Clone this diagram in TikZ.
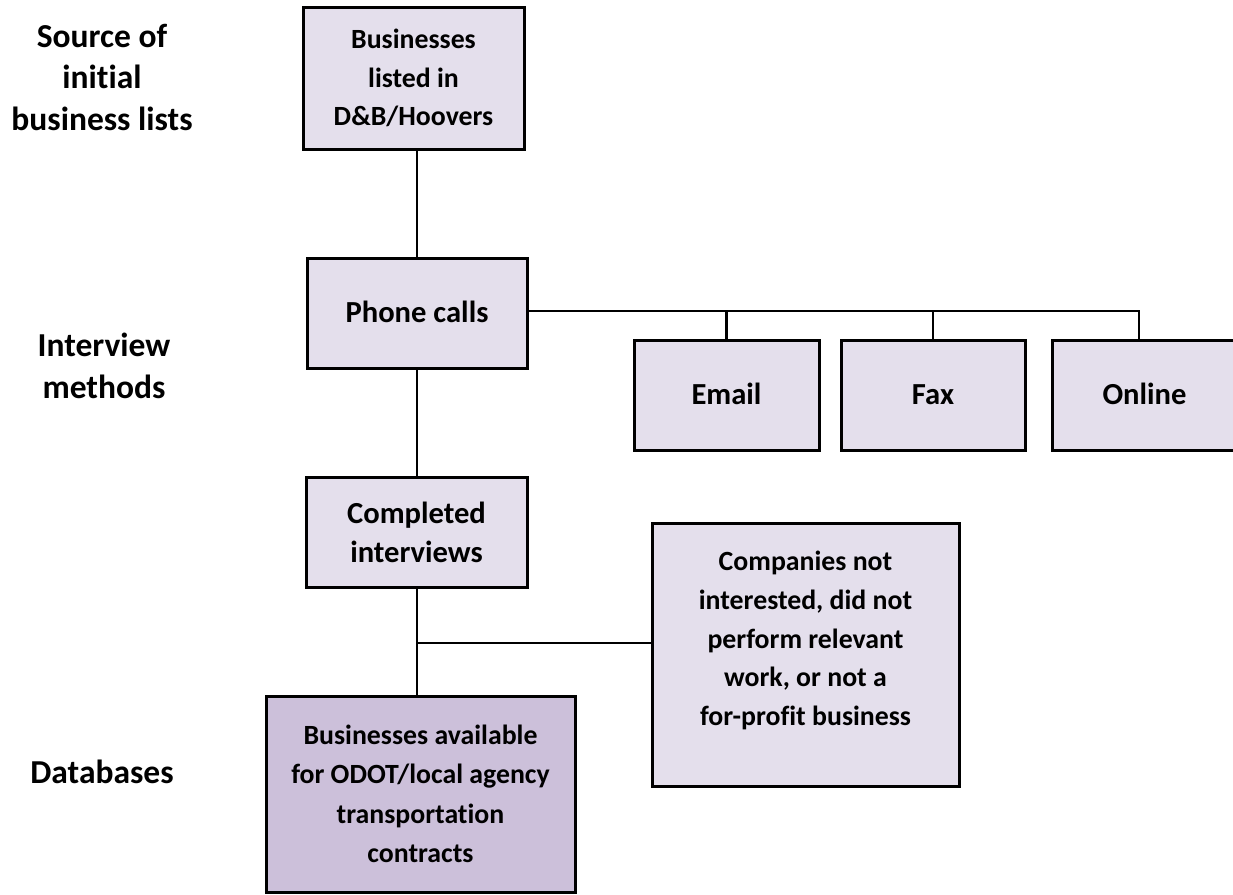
\documentclass[tikz,border=0pt]{standalone}
\usepackage{fontspec}
\setmainfont{Carlito}[Ligatures={NoCommon}]
\usetikzlibrary{calc}

\definecolor{boxfill}{HTML}{E4DFEC}
\definecolor{darkfill}{HTML}{CCC0DA}

\tikzset{
  stagebox/.style={draw=black, line width=3pt, fill=boxfill, inner sep=0pt,
    align=center, font=\fontsize{27.8}{38.6}\selectfont\bfseries},
  bigtext/.style={font=\fontsize{30.6}{39}\selectfont\bfseries},
  oneline/.style={text height=20pt, text depth=2pt},
  finalbox/.style={stagebox, fill=darkfill, font=\fontsize{27.8}{39.5}\selectfont\bfseries},
  rowlabel/.style={align=center, font=\fontsize{33.5}{41.5}\selectfont\bfseries},
  boxtext/.style={align=center, inner sep=0pt, font=\fontsize{27.8}{38.7}\selectfont\bfseries},
  link/.style={draw=black, line width=2.2pt},
}

\begin{document}
\begin{tikzpicture}[x=1pt, y=-1pt]
  \useasboundingbox (0,0) rectangle (1233,894);

  % row labels
  \node[rowlabel] (lsrc) at (102,77) {Source of\\initial\\business lists};
  \node[rowlabel] (lint) at (104,366) {Interview\\methods};
  \node[rowlabel, text height=23pt, text depth=1.8pt] (ldb) at (102,773) {Databases};

  % boxes
  \node[stagebox, minimum width=221, minimum height=142] (dnb) at (413.5,78)
    {Businesses\\listed in\\D\&B/Hoovers};
  \node[stagebox, bigtext, oneline, minimum width=220, minimum height=110] (phone) at (417,313)
    {Phone calls};
  \node[stagebox, bigtext, oneline, minimum width=185, minimum height=110] (email) at (726.5,395) {Email};
  \node[stagebox, bigtext, oneline, minimum width=184, minimum height=110] (fax) at (933,395) {Fax};
  \node[stagebox, bigtext, oneline, minimum width=185, minimum height=110] (online) at (1144.5,395) {Online};
  \node[stagebox, bigtext, minimum width=221, minimum height=110] (done) at (416.5,532)
    {Completed\\interviews};
  \node[stagebox, minimum width=307, minimum height=263] (drop) at (805.5,654.5) {};
  \node[boxtext] (droptext) at (805.5,640.5)
    {Companies not\\interested, did not\\perform relevant\\work, or not a\\for-profit business};
  \node[finalbox, minimum width=309, minimum height=196] (avail) at (420.5,794)
    {Businesses available\\for ODOT/local agency\\transportation\\contracts};

  % connectors
  \coordinate (hub) at (1139,311);
  \coordinate (split) at (417,643);
  \draw[link] (phone.north |- dnb.south) -- (phone.north);
  \draw[link] (phone.east |- hub) -- (hub) -- (hub |- online.north);
  \draw[link] (email.north |- hub) -- (email.north);
  \draw[link] (fax.north |- hub) -- (fax.north);
  \draw[link] (phone.south) -- (done.north -| phone.south);
  \draw[link] (done.south -| split) -- (split |- avail.north);
  \draw[link] (split) -- (drop.west |- split);
\end{tikzpicture}
\end{document}
